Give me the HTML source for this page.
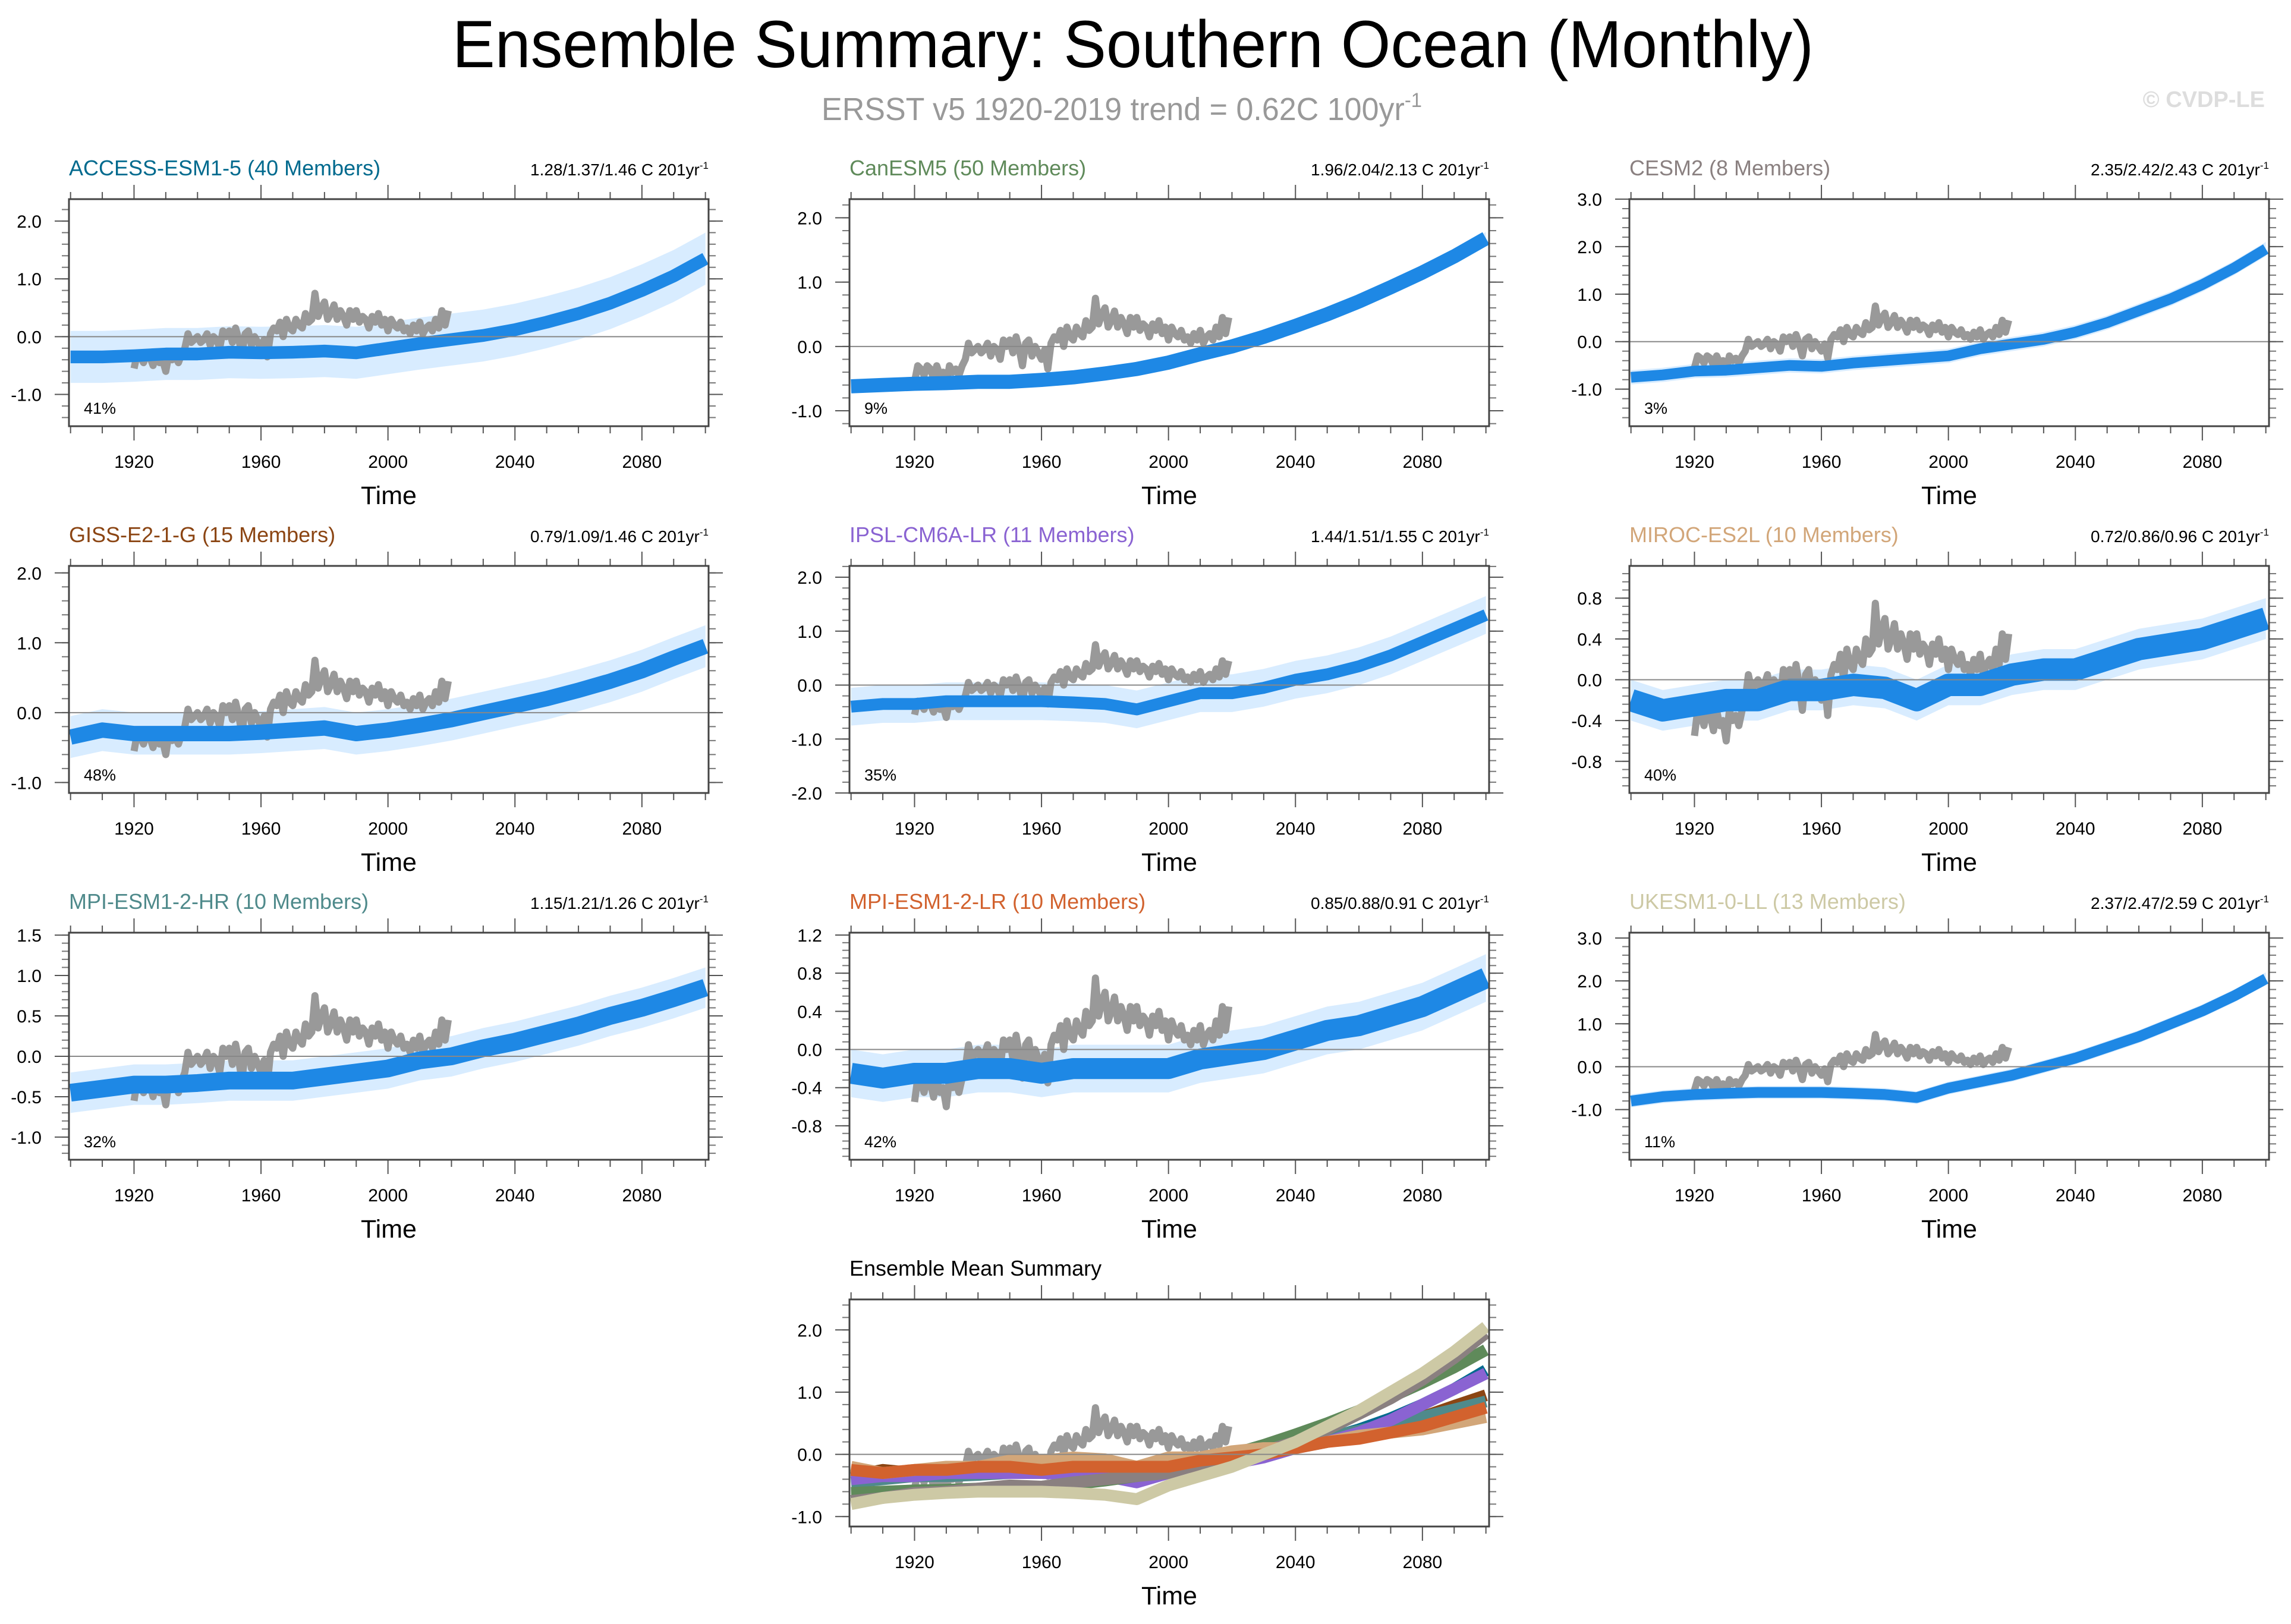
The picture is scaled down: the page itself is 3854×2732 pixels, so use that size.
<!DOCTYPE html>
<html><head><meta charset="utf-8">
<style>
html,body{margin:0;padding:0;background:#fff;}
svg{display:block;font-family:"Liberation Sans",sans-serif;}
</style></head>
<body>
<svg id="fig" xmlns="http://www.w3.org/2000/svg" width="3854" height="2732" viewBox="0 0 3854 2732">
<rect width="3854" height="2732" fill="#fff"/>
<text x="1906" y="113" font-size="112" text-anchor="middle" textLength="2290" lengthAdjust="spacingAndGlyphs" fill="#000">Ensemble Summary: Southern Ocean (Monthly)</text>
<text x="1382" y="202" font-size="54" fill="#999" textLength="1010" lengthAdjust="spacingAndGlyphs">ERSST v5 1920-2019 trend = 0.62C 100yr<tspan dy="-22" font-size="34">-1</tspan></text>
<text x="3810" y="180" font-size="38" font-weight="bold" fill="#ddd" text-anchor="end">© CVDP-LE</text>
<g id="panels"></g>
</svg>
<script>
// ---- data ----
const years = [1900,1910,1920,1930,1940,1950,1960,1970,1980,1990,2000,2010,2020,2030,2040,2050,2060,2070,2080,2090,2100];
const obsStart = 1920;
const obsValues = [
-0.55,-0.3,-0.35,-0.45,-0.3,-0.35,-0.5,-0.3,-0.45,-0.4,
-0.6,-0.3,-0.4,-0.35,-0.45,-0.3,-0.2,0.05,-0.1,-0.05,
0.0,-0.1,-0.05,0.05,-0.15,0.0,-0.05,-0.2,0.1,0.0,
0.1,-0.1,0.15,-0.05,-0.3,0.05,0.1,-0.15,0.0,-0.1,
-0.2,-0.05,-0.35,0.05,0.15,0.1,0.25,0.0,0.3,0.15,
0.1,0.3,0.2,0.15,0.4,0.25,0.3,0.75,0.35,0.5,
0.6,0.3,0.4,0.55,0.3,0.45,0.35,0.2,0.45,0.3,
0.45,0.25,0.35,0.3,0.15,0.35,0.25,0.4,0.2,0.3,
0.1,0.3,0.2,0.15,0.25,0.1,0.15,0.05,0.2,0.1,
0.25,0.05,0.15,0.2,0.1,0.3,0.15,0.45,0.2,0.45];
const modelNames = ["ACCESS-ESM1-5","CanESM5","CESM2","GISS-E2-1-G","IPSL-CM6A-LR","MIROC-ES2L","MPI-ESM1-2-HR","MPI-ESM1-2-LR","UKESM1-0-LL"];
const modelMembers = [40,50,8,15,11,10,10,10,13];
const modelTrends = ["1.28/1.37/1.46","1.96/2.04/2.13","2.35/2.42/2.43","0.79/1.09/1.46","1.44/1.51/1.55","0.72/0.86/0.96","1.15/1.21/1.26","0.85/0.88/0.91","2.37/2.47/2.59"];
const modelPct = ["41%","9%","3%","48%","35%","40%","32%","42%","11%"];
const meanACCESS = [-0.35,-0.35,-0.33,-0.3,-0.3,-0.27,-0.28,-0.27,-0.25,-0.28,-0.2,-0.12,-0.05,0.02,0.12,0.25,0.4,0.58,0.8,1.05,1.35];
const meanCanESM = [-0.62,-0.6,-0.58,-0.57,-0.55,-0.55,-0.52,-0.48,-0.42,-0.35,-0.25,-0.12,0.0,0.15,0.32,0.5,0.7,0.92,1.15,1.4,1.68];
const meanCESM2 = [-0.75,-0.7,-0.62,-0.6,-0.55,-0.5,-0.52,-0.45,-0.4,-0.35,-0.3,-0.15,-0.05,0.05,0.2,0.4,0.65,0.9,1.2,1.55,1.95];
const meanGISS = [-0.35,-0.25,-0.3,-0.3,-0.3,-0.3,-0.28,-0.25,-0.22,-0.3,-0.25,-0.18,-0.1,0.0,0.1,0.2,0.32,0.45,0.6,0.78,0.95];
const meanIPSL = [-0.4,-0.35,-0.35,-0.3,-0.3,-0.3,-0.3,-0.32,-0.35,-0.45,-0.3,-0.15,-0.15,-0.05,0.1,0.2,0.35,0.55,0.8,1.05,1.3];
const meanMIROC = [-0.2,-0.3,-0.25,-0.2,-0.2,-0.1,-0.1,-0.05,-0.08,-0.2,-0.05,-0.05,0.05,0.1,0.1,0.2,0.3,0.35,0.4,0.5,0.6];
const meanMPIHR = [-0.45,-0.4,-0.35,-0.35,-0.33,-0.3,-0.3,-0.3,-0.25,-0.2,-0.15,-0.05,0.0,0.1,0.18,0.28,0.38,0.5,0.6,0.72,0.85];
const meanMPILR = [-0.25,-0.3,-0.25,-0.25,-0.2,-0.2,-0.25,-0.2,-0.2,-0.2,-0.2,-0.1,-0.05,0.0,0.1,0.2,0.25,0.35,0.45,0.6,0.75];
const meanUKESM = [-0.8,-0.7,-0.65,-0.62,-0.6,-0.6,-0.6,-0.62,-0.65,-0.72,-0.5,-0.35,-0.2,0.0,0.2,0.45,0.7,1.0,1.3,1.65,2.05];
const modelSpread = [0.45,0.1,0.15,0.3,0.35,0.2,0.25,0.25,0.15];

// ---- layout / style ----
const means = [meanACCESS,meanCanESM,meanCESM2,meanGISS,meanIPSL,meanMIROC,meanMPIHR,meanMPILR,meanUKESM];
const colors = ["#006a8e","#5f8a5a","#8a8080","#8b4513","#8a63d2","#d2a679","#4f8a8b","#d2622e","#cdc9a5"];
const cfg = [
 {col:0,row:0,ymin:-1.55,ymax:2.38,ticks:[-1,0,1,2],minor:0.2},
 {col:1,row:0,ymin:-1.24,ymax:2.29,ticks:[-1,0,1,2],minor:0.2},
 {col:2,row:0,ymin:-1.78,ymax:3.0,ticks:[-1,0,1,2,3],minor:0.2},
 {col:0,row:1,ymin:-1.15,ymax:2.1,ticks:[-1,0,1,2],minor:0.2},
 {col:1,row:1,ymin:-2.0,ymax:2.21,ticks:[-2,-1,0,1,2],minor:0.2},
 {col:2,row:1,ymin:-1.11,ymax:1.116,ticks:[-0.8,-0.4,0,0.4,0.8],minor:0.08},
 {col:0,row:2,ymin:-1.28,ymax:1.53,ticks:[-1,-0.5,0,0.5,1,1.5],minor:0.1},
 {col:1,row:2,ymin:-1.156,ymax:1.225,ticks:[-0.8,-0.4,0,0.4,0.8,1.2],minor:0.08},
 {col:2,row:2,ymin:-2.17,ymax:3.125,ticks:[-1,0,1,2,3],minor:0.2}
];
const colX = [116,1429,2741], rowY = [335,952,1569,2186], W = 1076, H = 382;
const X0 = 1899.5, X1 = 2101;
const NS = "http://www.w3.org/2000/svg";
const root = document.getElementById('panels');
function mk(tag, attrs, parent){const e=document.createElementNS(NS,tag);for(const k in attrs)e.setAttribute(k,attrs[k]);(parent||root).appendChild(e);return e;}

function drawPanel(px, py, ymin, ymax, ticks, minor, name){
  const g = mk('g',{});
  
  
  const xs = v => px + (v - X0) / (X1 - X0) * W;
  const ys = v => py + (ymax - v) / (ymax - ymin) * H;
  for (let yr = 1900; yr <= 2100; yr += 10) {
    const x = xs(yr), major = (yr - 1920) % 40 === 0 && yr >= 1920 && yr <= 2080;
    const L = major ? 24 : 12;
    mk('line',{x1:x,x2:x,y1:py+H,y2:py+H+L,stroke:'#555','stroke-width':2},g);
    mk('line',{x1:x,x2:x,y1:py,y2:py-L,stroke:'#555','stroke-width':2},g);
    if (major) {
      const t = mk('text',{x:x,y:py+H+70,'font-size':30,'text-anchor':'middle',fill:'#000'},g);
      t.textContent = yr;
      
      
    }
  }
  const n0 = Math.ceil(ymin / minor - 1e-6), n1 = Math.floor(ymax / minor + 1e-6);
  for (let n = n0; n <= n1; n++) {
    const y = ys(n * minor);
    mk('line',{x1:px,x2:px-12,y1:y,y2:y,stroke:'#777','stroke-width':2},g);
    mk('line',{x1:px+W,x2:px+W+12,y1:y,y2:y,stroke:'#777','stroke-width':2},g);
  }
  ticks.forEach(v => {
    const y = ys(v);
    mk('line',{x1:px,x2:px-24,y1:y,y2:y,stroke:'#555','stroke-width':2},g);
    mk('line',{x1:px+W,x2:px+W+24,y1:y,y2:y,stroke:'#555','stroke-width':2},g);
    const t = mk('text',{x:px-46,y:y+11,'font-size':30,'text-anchor':'end',fill:'#000'},g);
    t.textContent = v.toFixed(1);
    
    
  });
  const tl = mk('text',{x:px+W/2,y:py+H+131,'font-size':43,'text-anchor':'middle',fill:'#000'},g);
  tl.textContent = 'Time';
  
  
  const clipId = 'c' + px + '_' + py;
  const cp = mk('clipPath',{id:clipId},g);
  mk('rect',{x:px,y:py,width:W,height:H},cp);
  const inner = mk('g',{'clip-path':'url(#'+clipId+')'},g);
  return {g, inner, xs, ys, px, py};
}
function linePts(xs, ys, arr, start, step){return arr.map((v,i)=>xs(start+i*step).toFixed(1)+','+ys(v).toFixed(1)).join(' ');}
function obsPts(P){return linePts(P.xs, P.ys, obsValues, obsStart, 1);}
function finishPanel(P){
  mk('line',{x1:P.px,x2:P.px+W,y1:P.ys(0),y2:P.ys(0),stroke:'#888','stroke-width':2},P.inner);
  const b = mk('rect',{x:P.px,y:P.py,width:W,height:H,fill:'none',stroke:'#444','stroke-width':3},P.g);
  
  
}

modelNames.forEach((nm, i) => {
  const c = cfg[i], px = colX[c.col], py = rowY[c.row];
  const P = drawPanel(px, py, c.ymin, c.ymax, c.ticks, c.minor, 'panel-' + nm.toLowerCase());
  const m = means[i], s = modelSpread[i];
  const up = m.map((v,k)=>P.xs(years[k]).toFixed(1)+','+P.ys(v+s).toFixed(1));
  const lo = m.map((v,k)=>P.xs(years[k]).toFixed(1)+','+P.ys(v-s).toFixed(1)).reverse();
  const env = mk('polygon',{points:up.concat(lo).join(' '),fill:'#a8d4ff','fill-opacity':0.45},P.inner);
  
  
  const ob = mk('polyline',{points:obsPts(P),fill:'none',stroke:'#999','stroke-width':12,'stroke-linejoin':'round'},P.inner);
  
  
  const sw = Math.max(18, 0.22 * H / (c.ymax - c.ymin));
  const ml = mk('polyline',{points:linePts(P.xs,P.ys,m,years[0],10),fill:'none',stroke:'#1e88e5','stroke-width':sw,'stroke-linejoin':'round'},P.inner);
  
  
  finishPanel(P);
  const t = mk('text',{x:px,y:py-40,'font-size':36,fill:colors[i]},P.g);
  t.textContent = nm + ' (' + modelMembers[i] + ' Members)';
  
  
  const r = mk('text',{x:px+W,y:py-40,'font-size':28,'text-anchor':'end',fill:'#000'},P.g);
  r.innerHTML = modelTrends[i] + ' C 201yr<tspan dy="-11" font-size="17">-1</tspan>';
  
  
  const pc = mk('text',{x:px+25,y:py+H-21,'font-size':27,fill:'#000'},P.g);
  pc.textContent = modelPct[i];
  
  
});

(function(){
  const P = drawPanel(colX[1], rowY[3], -1.16, 2.49, [-1,0,1,2], 0.2, 'panel-ensemble-mean-summary');
  const ob = mk('polyline',{points:obsPts(P),fill:'none',stroke:'#999','stroke-width':12,'stroke-linejoin':'round'},P.inner);
  
  
  const order = [0,3,6,4,1,2,5,7,8];
  order.forEach(i => {
    const l = mk('polyline',{points:linePts(P.xs,P.ys,means[i],years[0],10),fill:'none',stroke:colors[i],'stroke-width':20,'stroke-linejoin':'round'},P.inner);
    
    
  });
  finishPanel(P);
  const t = mk('text',{x:colX[1],y:rowY[3]-40,'font-size':36,fill:'#000'},P.g);
  t.textContent = 'Ensemble Mean Summary';
  
  
})();
</script>
</body></html>
